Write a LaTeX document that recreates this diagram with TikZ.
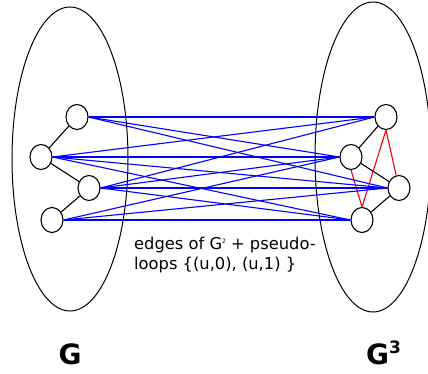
\documentclass[tikz,border=0pt]{standalone}
\usepackage{fontspec}
\setmainfont{DejaVu Sans}
\usetikzlibrary{shapes.geometric}
\begin{document}
\begin{tikzpicture}[x=1pt,y=-1pt,
  vtx/.style={draw,ellipse,minimum width=22pt,minimum height=25pt,inner sep=0pt,line width=1.1pt},
  set/.style={draw,line width=1pt},
  gedge/.style={line width=1.1pt},
  bedge/.style={blue,line width=1.1pt},
  redge/.style={red,line width=1.1pt},
  big/.style={font=\fontsize{28}{30}\selectfont\bfseries,inner sep=0pt}]
\useasboundingbox (0,0) rectangle (428,374);
\begin{scope}
\clip (0,0) rectangle (428,374);
\draw[set] (70,159) ellipse [x radius=58, y radius=152];
\draw[set] (373,157) ellipse [x radius=58, y radius=155];
\end{scope}
\node[vtx] (a1) at (77,117) {};
\node[vtx] (a2) at (41,157) {};
\node[vtx] (a3) at (89,188) {};
\node[vtx] (a4) at (52,220) {};
\node[vtx] (b1) at (386,117) {};
\node[vtx] (b2) at (351,157) {};
\node[vtx] (b3) at (399,188) {};
\node[vtx] (b4) at (362,220) {};
\draw[gedge] (a1) -- (a2) (a2) -- (a3) (a3) -- (a4);
\draw[gedge] (b1) -- (b2) (b2) -- (b3) (b3) -- (b4);
\draw[redge] (b1.south) -- (b3) (b1.south) -- (b4.north) (b2.south) -- (b4.north);
\foreach \u/\vs in {a1/{b1,b2,b3}, a2/{b1,b2,b3,b4}, a3/{b1,b2,b3,b4}, a4/{b2,b3,b4}}{
  \foreach \v in \vs { \draw[bedge] (\u.east) -- (\v.west); }
}
\node[anchor=base west,align=left,font=\fontsize{16.3}{20}\selectfont,inner sep=0pt] (lbl) at (134,269)
  {edges of G\raisebox{6pt}{\fontsize{6}{6}\selectfont 2} + pseudo-\\loops \{(u,0), (u,1) \}};
\node[big,anchor=base] (g) at (70,364) {G};
\node[big,anchor=base west] (g3) at (366,364) {G\raisebox{11pt}{\fontsize{17}{17}\selectfont\bfseries 3}};
\end{tikzpicture}
\end{document}
